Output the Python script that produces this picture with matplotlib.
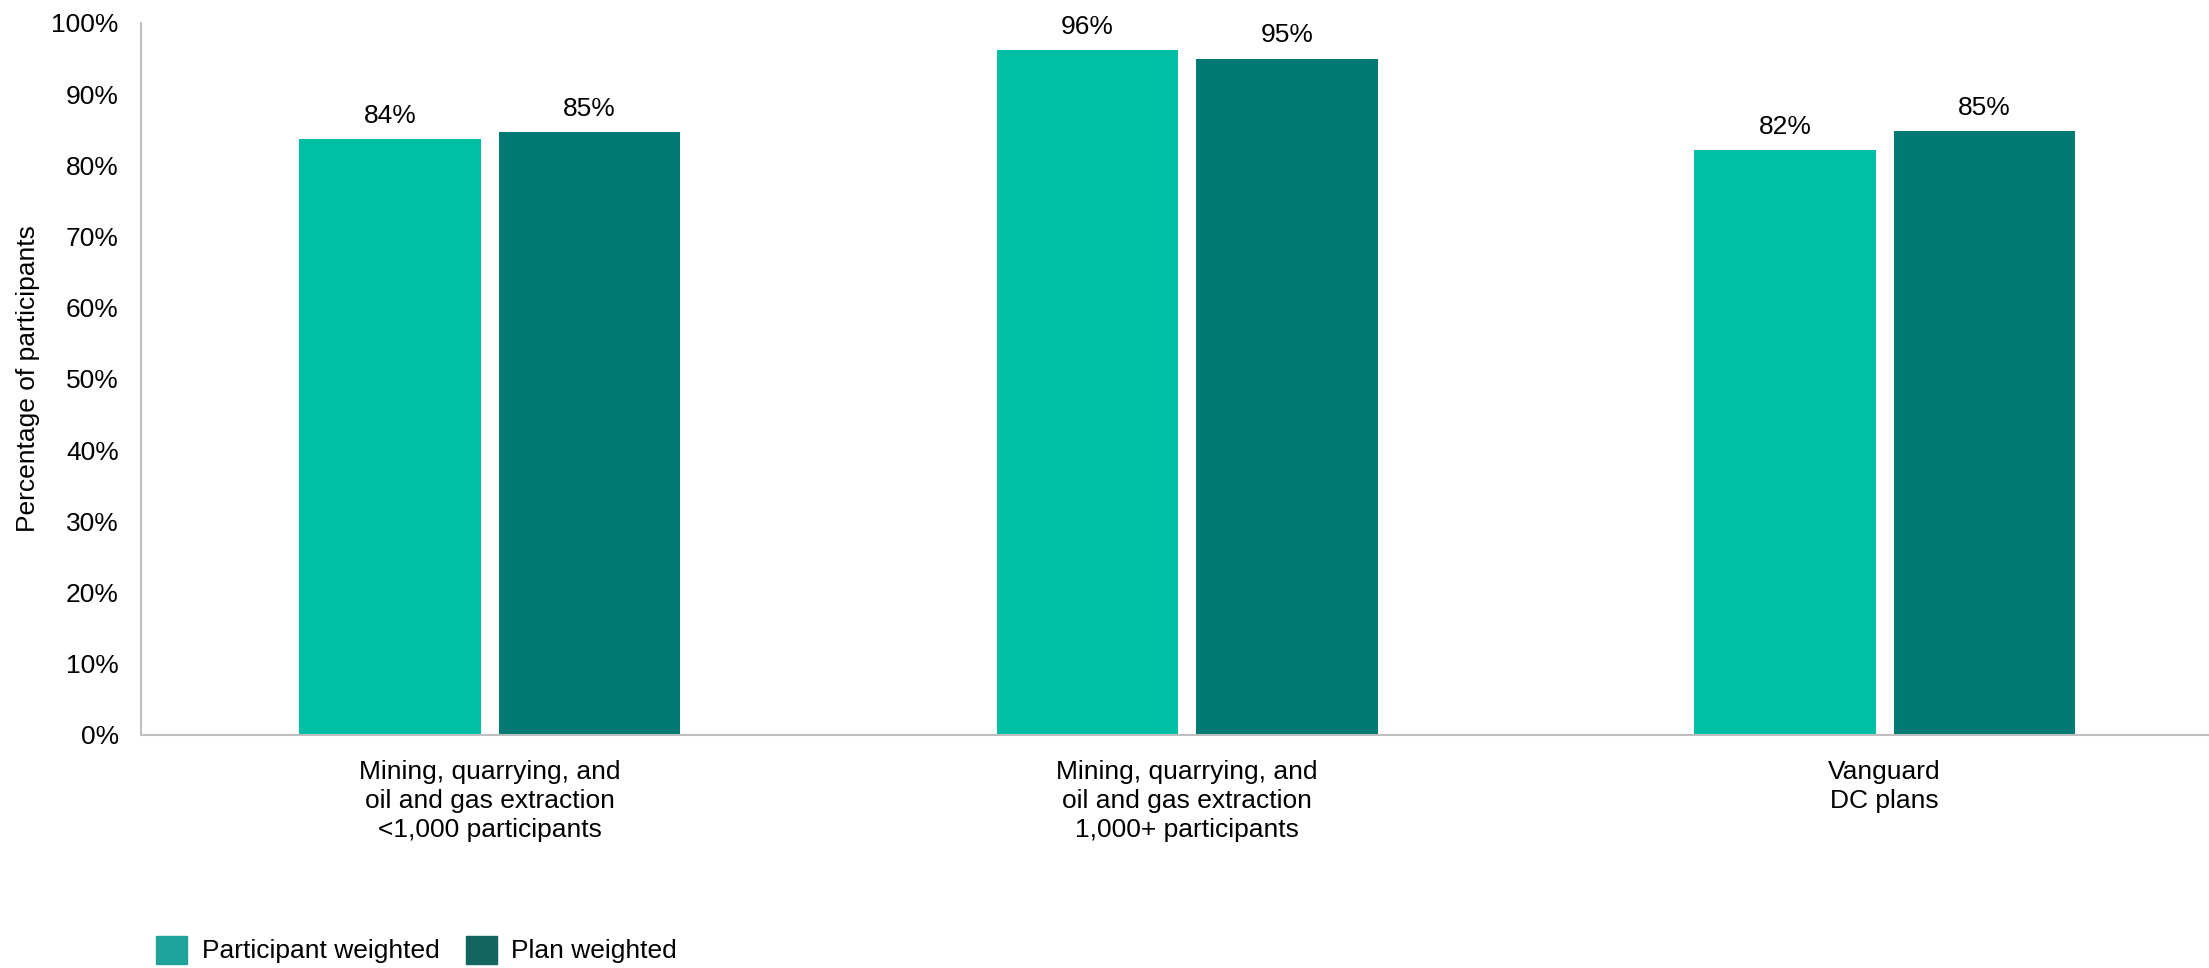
import numpy as np
import matplotlib
matplotlib.use("Agg")
import matplotlib.pyplot as plt
from matplotlib.patches import Patch

plt.rcParams['font.family'] = ['Liberation Sans', 'DejaVu Sans']

# data
categories = ["Mining, quarrying, and\noil and gas extraction\n<1,000 participants",
              "Mining, quarrying, and\noil and gas extraction\n1,000+ participants",
              "Vanguard\nDC plans"]
participant_weighted = [83.7, 96.2, 82.1]
plan_weighted = [84.7, 95.0, 84.8]
participant_labels = ["84%", "96%", "82%"]
plan_labels = ["85%", "95%", "85%"]
series_names = ["Participant weighted", "Plan weighted"]

c_part = "#00BFA5"
c_plan = "#007A73"
fs = 19

fig = plt.figure(figsize=(22.09, 9.68), dpi=100)
ax = fig.add_axes([141/2209, 1 - 735/968, 1 - 141/2209, (735 - 23)/968])

x = np.arange(len(categories))
w = 0.26
off = 0.143
b1 = ax.bar(x - off, participant_weighted, w, color=c_part)
b2 = ax.bar(x + off, plan_weighted, w, color=c_plan)

for bars, labs in [(b1, participant_labels), (b2, plan_labels)]:
    for rect, lab in zip(bars, labs):
        ax.annotate(lab, (rect.get_x() + rect.get_width()/2, rect.get_height()),
                    xytext=(0, 8), textcoords="offset points",
                    ha="center", va="bottom", fontsize=fs)

ax.set_xlim(-0.5, 2.465)
ax.set_ylim(0, 100)
ax.set_yticks(np.arange(0, 101, 10))
ax.set_yticklabels([f"{v}%" for v in range(0, 101, 10)], fontsize=fs)
ax.set_xticks(x)
ax.set_xticklabels(categories, fontsize=fs, linespacing=1.25)
ax.tick_params(axis="y", length=0, pad=16)
ax.tick_params(axis="x", length=0, pad=18)

for s in ["top", "right"]:
    ax.spines[s].set_visible(False)
for s in ["left", "bottom"]:
    ax.spines[s].set_color("#BFBFBF")
    ax.spines[s].set_linewidth(1.5)

fig.text(28/2209, 1 - 379/968, "Percentage of participants", rotation=90,
         ha="center", va="center", fontsize=fs)

handles = [Patch(color="#1DA39A"), Patch(color="#136560")]
fig.legend(handles, series_names, loc="lower left", bbox_to_anchor=(138/2209, -14/968),
           ncol=2, frameon=False, fontsize=fs, handlelength=1.17, handleheight=1.25,
           handletextpad=0.55, columnspacing=1.0, borderpad=0.2)

fig.savefig("out.png", dpi=100)
